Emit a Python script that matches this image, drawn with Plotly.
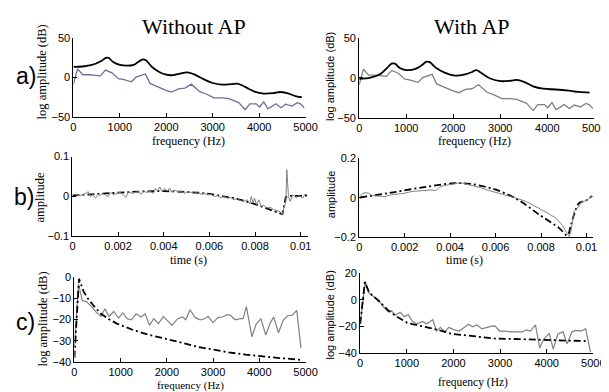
import plotly.graph_objects as go

W, H = 609, 392

# ---- Panel a: spectra (frequency Hz, log amplitude dB)
a_gray_f = [0, 90, 200, 340, 580, 690, 830, 970, 1070, 1250, 1350, 1550, 1650, 1800, 1980, 2120, 2260, 2400,
            2540, 2720, 2860, 3030, 3210, 3350, 3560, 3700, 3800, 3940, 4010, 4100, 4190, 4360, 4470, 4570,
            4710, 4820, 4890, 4970]
a_gray_db = [-8, 11, 3.5, 3.5, 2, 9.5, 6, -1.5, -2.5, -5.5, 0.5, 4.5, -7.5, -11.5, -16, -18.5, -14.5, -13.5,
             -8.5, -18, -21, -26, -26, -27, -32, -41, -33.5, -33.5, -37.5, -31, -40, -33.5, -38.5, -34,
             -36.5, -32, -33.5, -38.5]

a_left_env_f = [0, 200, 400, 600, 700, 760, 850, 1000, 1150, 1300, 1400, 1500, 1560, 1700, 1850, 2000, 2150,
                2300, 2450, 2600, 2800, 3000, 3200, 3400, 3550, 3700, 3900, 4100, 4300, 4450, 4600, 4800, 4920]
a_left_env_db = [13.5, 14, 16, 21, 25, 25, 20, 16, 15, 16, 20, 23, 22, 13, 7, 3.5, 3, 5, 6.5, 4, -2, -7, -9,
                 -8.5, -8, -12, -18, -20.5, -20, -18.5, -20, -24, -25]

a_right_env_f = [0, 240, 450, 590, 690, 760, 865, 1000, 1180, 1310, 1430, 1500, 1630, 1830, 2040, 2250, 2400,
                 2490, 2590, 2800, 3010, 3220, 3350, 3490, 3700, 3910, 4180, 4460, 4670, 4900]
a_right_env_db = [-1, 0.5, 5, 12.5, 18, 18, 12.5, 10, 11, 15, 20.5, 20, 13, 6.5, 3, 4.5, 7.5, 10, 6.5, -1, -4,
                  -3.5, -2.5, -4.5, -10.5, -13.5, -14.5, -16, -17.5, -18.5]

# ---- Panel b: waveforms (time s, amplitude)
b_left_t_ms = [0.0, 0.145, 0.289, 0.434, 0.578, 0.694, 0.795, 0.896, 1.012, 1.127, 1.228, 1.301, 1.445, 1.561,
               1.662, 1.806, 1.951, 2.095, 2.240, 2.341, 2.457, 2.601, 2.746, 2.890, 3.006, 3.107, 3.251, 3.396,
               3.540, 3.642, 3.728, 3.829, 3.931, 4.046, 4.162, 4.263, 4.364, 4.480, 4.624, 4.769, 4.913, 5.058,
               5.202, 5.347, 5.491, 5.636, 5.780, 5.925, 6.069, 6.214, 6.358, 6.503, 6.647, 6.792, 6.936, 7.081,
               7.225, 7.370, 7.514, 7.659, 7.775, 7.832, 7.919, 7.977, 8.064, 8.165, 8.266, 8.382, 8.526, 8.671,
               8.815, 8.960, 9.104, 9.191, 9.277, 9.350, 9.393, 9.465, 9.538, 9.653, 9.798, 9.942, 10.087,
               10.188, 10.289]
b_left_amp = [0.0033, 0.0049, 0.0016, 0.0033, 0.0073, 0.0114, -0.0008, 0.0049, -0.0049, 0.0049, 0.0016, 0.0073,
              0.0033, -0.0008, 0.0098, 0.0033, 0.0073, 0.0098, 0.0033, -0.0033, 0.0114, 0.0073, 0.0098, 0.0114,
              0.0049, 0.013, 0.0098, 0.013, 0.0073, 0.0195, 0.013, 0.0236, 0.0114, 0.0195, 0.013, 0.0211, 0.0098,
              0.0154, 0.0114, 0.013, 0.0073, 0.0114, 0.0098, 0.0073, 0.0114, 0.0049, 0.0073, 0.0033, 0.0049,
              -0.0008, 0.0016, -0.0033, -0.0008, -0.0049, -0.0033, -0.0089, -0.0049, -0.0114, -0.013, -0.0089,
              -0.0195, -0.0008, -0.0171, -0.0049, -0.0211, -0.0089, -0.0252, -0.0228, -0.0293, -0.0276, -0.0333,
              -0.0358, -0.039, -0.0455, -0.0293, -0.013, 0.0667, -0.0008, -0.013, 0.0033, -0.0033, 0.0016,
              -0.0049, 0.0049, 0.0033]
b_left_model_t_ms = [0, 1, 2, 3, 4, 5, 6, 7, 7.5, 8, 8.5, 9, 9.2, 9.35, 9.5, 10, 10.3]
b_left_model_amp = [0.002, 0.006, 0.009, 0.012, 0.013, 0.011, 0.006, -0.004, -0.011, -0.020, -0.030, -0.040,
                    -0.045, -0.002, 0.001, 0.001, 0.002]

b_right_t_ms = [0.0, 0.116, 0.26, 0.405, 0.55, 0.839, 1.129, 1.418, 1.708, 1.997, 2.287, 2.576, 2.865, 3.155,
                3.372, 3.517, 3.661, 3.878, 4.168, 4.457, 4.747, 5.036, 5.326, 5.615, 6.049, 6.483, 6.918, 7.352,
                7.786, 8.22, 8.654, 8.944, 9.161, 9.233, 9.305, 9.45, 9.595, 9.812, 9.957, 10.1, 10.246]
b_right_amp = [-0.0025, 0.0177, 0.026, 0.0228, 0.011, 0.0093, 0.0059, 0.0144, 0.0177, 0.0228, 0.0313, 0.0346,
               0.0397, 0.0397, 0.0363, 0.0515, 0.06, 0.065, 0.0735, 0.0769, 0.0684, 0.0617, 0.0515, 0.0397,
               0.0262, 0.0144, -0.0025, -0.0194, -0.0448, -0.0735, -0.1039, -0.141, -0.185, -0.1968, -0.18,
               -0.07, -0.053, -0.0194, -0.016, -0.006, 0.0093]
b_right_model_t_ms = [0.04, 1.27, 2.72, 4.17, 4.89, 5.9, 6.92, 7.93, 8.8, 9.16, 9.3, 9.45, 9.67, 9.96, 10.25]
b_right_model_amp = [0.001, 0.023, 0.0515, 0.0735, 0.07, 0.045, -0.006, -0.087, -0.155, -0.192, -0.146, -0.087,
                     -0.028, -0.016, 0.009]

# ---- Panel c: source spectra (frequency Hz, log amplitude dB)
c_left_f = [0, 90, 170, 260, 370, 470, 575, 660, 750, 850, 955, 1045, 1140, 1230, 1335, 1440, 1530, 1625, 1715,
            1820, 1925, 2030, 2110, 2235, 2340, 2410, 2500, 2615, 2720, 2820, 2890, 3000, 3100, 3200, 3310, 3380,
            3480, 3585, 3650, 3720, 3840, 3930, 4035, 4140, 4230, 4310, 4415, 4520, 4620, 4705, 4810, 4900]
c_left_db = [-33, -3.5, -11.2, -11.7, -14, -16.6, -18.6, -15, -18.6, -16.3, -19.4, -17, -19.7, -20.2, -17.4,
             -18.9, -17.4, -22.8, -19.7, -22, -18.6, -20.8, -22.8, -19.7, -18.9, -20.2, -15.5, -19.2, -20.2,
             -19.7, -18.6, -21.5, -19.2, -18.9, -17.8, -18.2, -20.2, -19.7, -19.7, -14, -28.2, -22.3, -19.7,
             -27.4, -22, -18.9, -26.3, -20.2, -18.2, -18.2, -15.8, -33.5]
c_left_model_f = [0, 100, 200, 300, 450, 575, 750, 920, 1270, 1600, 1960, 2300, 2650, 3000, 3340, 3700, 4035,
                  4400, 4730, 4900]
c_left_model_db = [-38, -1, -7, -10.5, -14.5, -17.4, -20, -22, -25, -27.2, -29, -31, -32.8, -34.2, -35.5, -36.5,
                   -37.4, -38.1, -38.6, -39]

c_right_f = [0, 110, 180, 285, 390, 490, 600, 670, 750, 860, 945, 1030, 1120, 1220, 1330, 1430, 1555, 1640, 1720,
             1810, 1900, 2020, 2125, 2230, 2320, 2415, 2505, 2610, 2715, 2820, 2890, 2990, 3100, 3235, 3375, 3480,
             3570, 3650, 3760, 3850, 3930, 4055, 4140, 4240, 4350, 4440, 4540, 4625, 4730, 4835, 4940]
c_right_db = [-18, 13.7, 5.2, 2.5, -0.4, -5, -9, -8.3, -11.7, -9.4, -12.8, -11.2, -16.2, -18, -16.2, -18, -15,
              -23.4, -20.7, -24, -20.7, -22.5, -23.4, -20.7, -18.4, -20.2, -18.9, -21.8, -20.7, -19.8, -19.6,
              -23.4, -23.4, -24, -24, -24, -22.5, -23.4, -18.9, -36, -29.7, -25.2, -36.9, -25.6, -24, -33, -24,
              -22.9, -23.4, -21.8, -39]
c_right_model_f = [0, 100, 200, 400, 600, 735, 800, 1010, 1300, 1600, 1985, 2500, 2890, 3500, 3790, 4200, 4760,
                   4900]
c_right_model_db = [-18, 13, 5, -1, -8, -11.7, -13, -17.3, -19.5, -22, -25.6, -27.5, -29, -29.5, -30, -30.3,
                    -30.8, -31]

freq_ticks = [0, 1000, 2000, 3000, 4000, 5000]
time_ticks = [0, 0.002, 0.004, 0.006, 0.008, 0.01]
time_ticktext = ["0", "0.002", "0.004", "0.006", "0.008", "0.01"]

BLACK = "#000000"
GRAY = "#808080"
PURPLE = "#6e6e9e"
DASHDOT = "7px,3px,2px,3px"

fig = go.Figure()


def add(x, y, ax, color, width, dash=None, shape="linear"):
    fig.add_trace(go.Scatter(x=x, y=y, mode="lines", xaxis="x" + ax, yaxis="y" + ax,
                             line=dict(color=color, width=width, dash=dash, shape=shape),
                             showlegend=False, hoverinfo="skip"))


ms = lambda v: [t / 1000 for t in v]

# a left / right
add(a_gray_f, a_gray_db, "", PURPLE, 1.3)
add(a_left_env_f, a_left_env_db, "", BLACK, 1.8, shape="spline")
add(a_gray_f, a_gray_db, "2", GRAY, 1.3)
add(a_right_env_f, a_right_env_db, "2", BLACK, 1.8, shape="spline")
# b
add(ms(b_left_model_t_ms), b_left_model_amp, "3", BLACK, 1.8, dash=DASHDOT)
add(ms(b_left_t_ms), b_left_amp, "3", GRAY, 1.0)
add(ms(b_right_model_t_ms), b_right_model_amp, "4", BLACK, 1.8, dash=DASHDOT, shape="spline")
add(ms(b_right_t_ms), b_right_amp, "4", GRAY, 1.0)
# c
add(c_left_f, c_left_db, "5", GRAY, 1.2)
add(c_left_model_f, c_left_model_db, "5", BLACK, 1.8, dash=DASHDOT)
add(c_right_f, c_right_db, "6", GRAY, 1.2)
add(c_right_model_f, c_right_model_db, "6", BLACK, 1.8, dash=DASHDOT)


def px(x):
    return x / W


def py(y):
    return 1 - y / H


tickfont = dict(family="Liberation Sans, Arial", size=11, color="black")
common = dict(showline=True, linecolor="black", linewidth=1, ticks="inside", ticklen=4, tickcolor="black",
              tickwidth=1, showgrid=False, zeroline=False, tickfont=tickfont, mirror=False, fixedrange=True)

panels = [
    # name, xdomain(px), ydomain(px top,bottom), xrange, yrange, xticks, xticktext, yticks
    ("", (64, 302), (25, 106), [0, 5000], [-50, 50], freq_ticks, None, [-50, 0, 50]),
    ("2", (357, 598), (25, 107), [0, 5000], [-50, 50], freq_ticks, None, [-50, 0, 50]),
    ("3", (63, 304), (147, 229), [0, 0.0103], [-0.1, 0.1], time_ticks, time_ticktext, [-0.1, 0, 0.1]),
    ("4", (357, 597), (149, 230), [0, 0.0103], [-0.2, 0.2], time_ticks, time_ticktext, [-0.2, 0, 0.2]),
    ("5", (65, 302), (271, 359), [0, 5000], [-40, 0], freq_ticks, None, [-40, -30, -20, -10, 0]),
    ("6", (358, 597), (267, 350), [0, 5000], [-40, 20], freq_ticks, None, [-40, -20, 0, 20]),
]

layout = dict(width=W, height=H, margin=dict(l=0, r=0, t=0, b=0), paper_bgcolor="white",
              plot_bgcolor="white", showlegend=False)
for name, xd, yd, xr, yr, xt, xtt, yt in panels:
    xa = dict(common, domain=[px(xd[0]), px(xd[1])], range=xr, tickvals=xt, anchor="y" + name)
    if xtt:
        xa["ticktext"] = xtt
    ya = dict(common, domain=[py(yd[1]), py(yd[0])], range=yr, tickvals=yt, anchor="x" + name)
    layout["xaxis" + name] = xa
    layout["yaxis" + name] = ya

serif = "Liberation Serif, Times New Roman"
sans = "Liberation Sans, Arial"
ann = []


def text(t, x, y, family, size, angle=0):
    ann.append(dict(text=t, x=px(x), y=py(y), xref="paper", yref="paper", showarrow=False,
                    xanchor="center", yanchor="middle", textangle=angle,
                    font=dict(family=family, size=size, color="black")))


text("Without AP", 188, 13, serif, 22)
text("With AP", 473, 13, serif, 22)
text("a)", 15, 64, sans, 23)
text("b)", 13, 189, sans, 23)
text("c)", 15, 318, sans, 23)
text("log amplitude (dB)", 32, 60, serif, 12.5, -90)
text("log amplitude (dB)", 327, 64, sans, 11, -90)
text("amplitude", 30, 189, serif, 12.5, -90)
text("amplitude", 328, 186, sans, 11, -90)
text("log amplitude (dB)", 33, 315, serif, 12.5, -90)
text("log amplitude (dB)", 327, 310, sans, 11, -90)
text("frequency (Hz)", 182, 131, serif, 12)
text("frequency (Hz)", 475, 131, serif, 12)
text("time (s)", 182, 254, serif, 12)
text("time (s)", 465, 254, serif, 12)
text("frequency (Hz)", 184, 383, serif, 11)
text("frequency (Hz)", 474, 380, serif, 11.5)
layout["annotations"] = ann

fig.update_layout(**layout)
fig.write_html("out.html", config={"displayModeBar": False})
